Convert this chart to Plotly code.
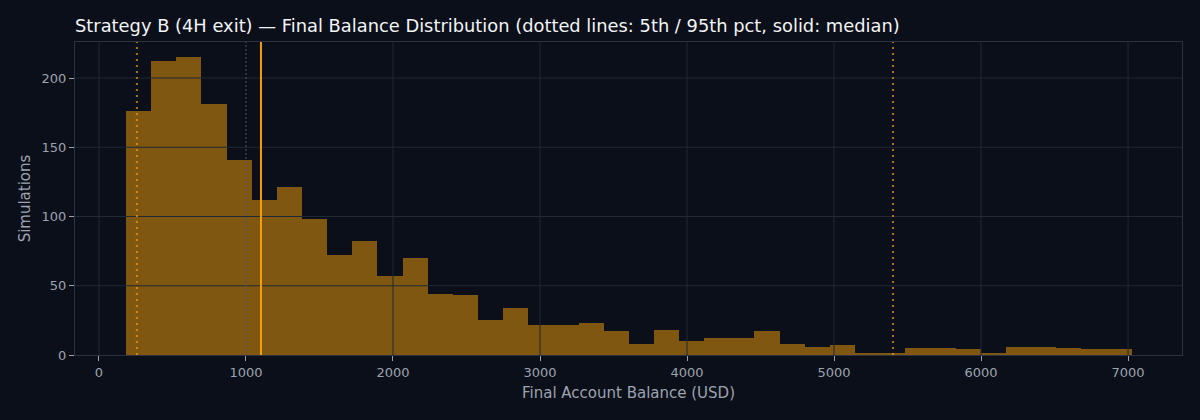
import numpy as np
import plotly.graph_objects as go

# histogram bins (USD) and counts per bin
bin_start = 184
bin_width = 171
counts = [176, 212, 215, 181, 141, 112, 121, 98, 72, 82,
          57, 70, 44, 43, 25, 34, 22, 22, 23, 17,
          8, 18, 10, 12, 12, 17, 8, 6, 7, 1,
          1, 5, 5, 4, 1, 6, 6, 5, 4, 4]

# reference lines
start_balance = 1000
p5 = 258
p95 = 5401
median = 1102

# tick values
x_ticks = [0, 1000, 2000, 3000, 4000, 5000, 6000, 7000]
y_ticks = [0, 50, 100, 150, 200]

orange = "#f59e0b"
bg = "#0b0f19"
grid = "#1f2937"
muted = "#9ca3af"

centers = bin_start + bin_width * (np.arange(len(counts)) + 0.5)

fig = go.Figure()
fig.add_trace(go.Bar(
    x=centers,
    y=counts,
    width=bin_width,
    marker=dict(color=orange, line=dict(width=0)),
    opacity=0.5,
    hoverinfo="skip",
))

# grid drawn over the bars, like the original
# (the start-balance marker takes the place of the 1000 grid line)
for xv in x_ticks:
    if xv != start_balance:
        fig.add_vline(x=xv, line=dict(color=grid, width=1), layer="above")
for yv in y_ticks[1:]:
    fig.add_hline(y=yv, line=dict(color=grid, width=1), layer="above")

fig.add_vline(x=start_balance, line=dict(color="#4b5563", width=1, dash="2px,2px"))
fig.add_vline(x=p5, line=dict(color=orange, width=2, dash="2px,4px"), opacity=0.7)
fig.add_vline(x=p95, line=dict(color=orange, width=2, dash="2px,4px"), opacity=0.7)
fig.add_vline(x=median, line=dict(color=orange, width=2))

fig.update_layout(
    width=1200,
    height=420,
    paper_bgcolor=bg,
    plot_bgcolor=bg,
    font=dict(family="DejaVu Sans", color=muted, size=13),
    title=dict(
        text="Strategy B (4H exit) — Final Balance Distribution (dotted lines: 5th / 95th pct, solid: median)",
        x=0, xref="paper", y=0.938, yanchor="middle",
        font=dict(size=17.85, color="#f3f4f6"),
    ),
    margin=dict(l=75, r=18, t=42, b=65),
    showlegend=False,
    bargap=0,
)
fig.update_xaxes(
    title=dict(text="Final Account Balance (USD)", font=dict(size=15), standoff=8),
    range=[-163, 7367],
    tickvals=x_ticks,
    showgrid=False,
    zeroline=False,
    showline=True, mirror=True, linecolor="#2a3242",
    ticks="outside", ticklen=5, tickcolor=muted,
)
fig.update_yaxes(
    title=dict(text="Simulations", font=dict(size=15), standoff=7),
    range=[0, 226],
    tickvals=y_ticks,
    showgrid=False,
    zeroline=False,
    showline=True, mirror=True, linecolor="#2a3242",
    ticks="outside", ticklen=5, tickcolor=muted,
)

fig.write_html("out.html",
               config={"displayModeBar": False},
               post_script="document.body.style.margin='0';document.body.style.background='%s';" % bg)
